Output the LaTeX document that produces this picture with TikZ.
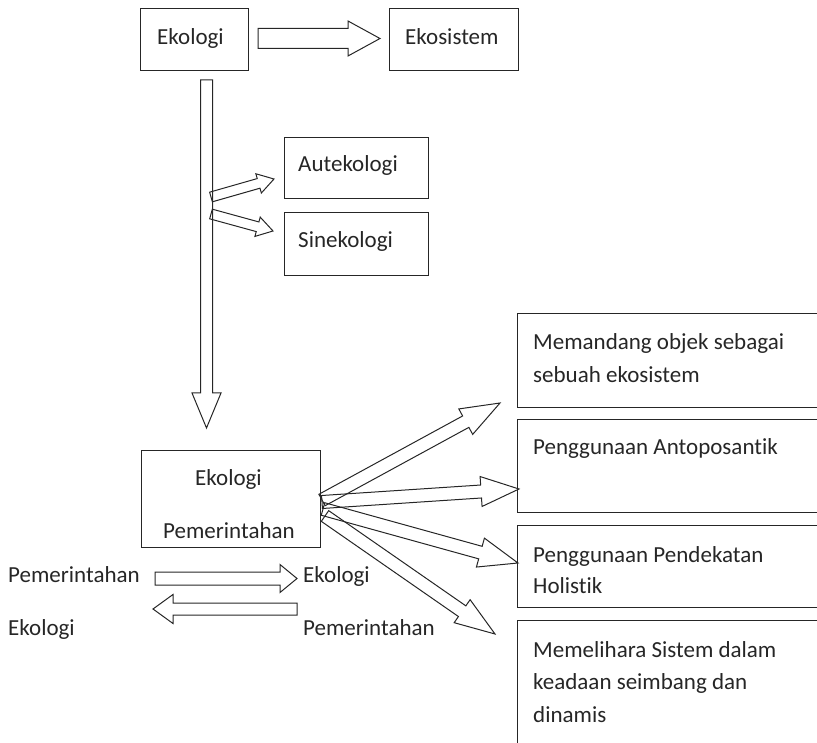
\documentclass[tikz,border=0pt]{standalone}
\usepackage{fontspec}
\setmainfont{Carlito}[Ligatures=NoCommon]
\usetikzlibrary{calc}

% outlined block arrow: #1 tail, #2 tip, #3 shaft half-width,
% #4 head half-width, #5 head length
\newcommand\blockarrow[5]{%
  \coordinate (hb) at ($(#2)!#5!(#1)$);
  \draw[barrow] ($(#1)!#3!90:(#2)$) -- ($(hb)!#3!90:(#2)$) -- ($(hb)!#4!90:(#2)$)
    -- (#2) -- ($(hb)!#4!-90:(#2)$) -- ($(hb)!#3!-90:(#2)$) -- ($(#1)!#3!-90:(#2)$) -- cycle;
}

\begin{document}
\begin{tikzpicture}[x=1pt,y=-1pt,
  box/.style={draw=black!85, line width=1pt, inner sep=0, anchor=north west},
  lbl/.style={inner sep=0, anchor=base west, font=\fontsize{23}{28}\selectfont, text=black!85},
  barrow/.style={draw=black!85, line width=1pt, line join=miter}]
\clip (0,0) rectangle (817,743);

% boxes
\node[box, minimum width=108pt, minimum height=62pt] (eko) at (140,8) {};
\node[box, minimum width=129pt, minimum height=62pt] (ekosis) at (389,8) {};
\node[box, minimum width=144pt, minimum height=61pt] (aut) at (284,137) {};
\node[box, minimum width=144pt, minimum height=63pt] (sin) at (284,212) {};
\node[box, minimum width=179pt, minimum height=97pt] (ekopem) at (141,450) {};
\node[box, minimum width=320pt, minimum height=94pt] (r1) at (517,313) {};
\node[box, minimum width=320pt, minimum height=93pt] (r2) at (517,419) {};
\node[box, minimum width=320pt, minimum height=82pt] (r3) at (517,525) {};
\node[box, minimum width=320pt, minimum height=150pt] (r4) at (517,620) {};

% texts
\node[lbl] (t-eko) at (157,45) {Ekologi};
\node[lbl] (t-ekosis) at (405,45) {Ekosistem};
\node[lbl] (t-aut) at (298,172) {Autekologi};
\node[lbl] (t-sin) at (298,248) {Sinekologi};
\node[lbl] (t-ep1) at (195,485) {Ekologi};
\node[lbl] (t-ep2) at (163,538) {Pemerintahan};
\node[lbl] (t-r1a) at (533,350) {Memandang objek sebagai};
\node[lbl] (t-r1b) at (533,382) {sebuah ekosistem};
\node[lbl] (t-r2a) at (533,454) {Penggunaan Antoposantik};
\node[lbl] (t-r3a) at (533,562) {Penggunaan Pendekatan};
\node[lbl] (t-r3b) at (533,593) {Holistik};
\node[lbl] (t-r4a) at (533,657) {Memelihara Sistem dalam};
\node[lbl] (t-r4b) at (533,689) {keadaan seimbang dan};
\node[lbl] (t-r4c) at (533,722) {dinamis};
\node[lbl] (t-pem1) at (8,582) {Pemerintahan};
\node[lbl] (t-eko1) at (303,582) {Ekologi};
\node[lbl] (t-eko2) at (8,635) {Ekologi};
\node[lbl] (t-pem2) at (303,635) {Pemerintahan};

% arrow end points
\coordinate (a0s) at ($(eko.east)+(9,-1)$);
\coordinate (a0e) at ($(ekosis.west)+(-9,-1)$);
\coordinate (v0s) at (206.5,80);
\coordinate (v0e) at (206.5,428);
\coordinate (s1s) at (211,197);
\coordinate (s1e) at (274,179);
\coordinate (s2s) at (211,214);
\coordinate (s2e) at (273,231);
\coordinate (f1s) at (322,500);
\coordinate (f1e) at (500,403);
\coordinate (f2s) at (322,502);
\coordinate (f2e) at (519,489);
\coordinate (f3s) at (323,509);
\coordinate (f3e) at (518,563);
\coordinate (f4s) at (325,516);
\coordinate (f4e) at (495,634);
\coordinate (b1s) at (155,578.5);
\coordinate (b1e) at (297,578.5);
\coordinate (b2s) at (297,609);
\coordinate (b2e) at (153,609);

% arrows
\blockarrow{a0s}{a0e}{10pt}{17.5pt}{32pt}
\blockarrow{v0s}{v0e}{6pt}{14.5pt}{35pt}
\blockarrow{s1s}{s1e}{5pt}{10pt}{16pt}
\blockarrow{s2s}{s2e}{5pt}{10pt}{16pt}
\blockarrow{f1s}{f1e}{6.5pt}{14.5pt}{39pt}
\blockarrow{f2s}{f2e}{6.5pt}{15pt}{38pt}
\blockarrow{f3s}{f3e}{6.5pt}{15pt}{39pt}
\blockarrow{f4s}{f4e}{6.5pt}{14pt}{40pt}
\blockarrow{b1s}{b1e}{6.5pt}{14pt}{17pt}
\blockarrow{b2s}{b2e}{6pt}{14.5pt}{20pt}
\end{tikzpicture}
\end{document}
